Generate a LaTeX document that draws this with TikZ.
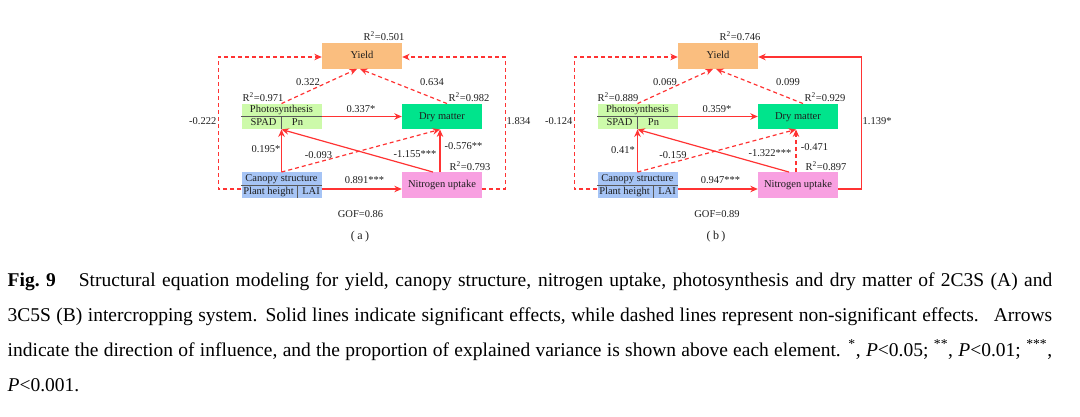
\documentclass[tikz,border=0pt]{standalone}
\usepackage{fontspec}
\setmainfont{Liberation Serif}
\usetikzlibrary{arrows.meta}
\definecolor{arr}{RGB}{255,51,51}
\definecolor{yieldc}{RGB}{250,190,127}
\definecolor{psc}{RGB}{205,250,170}
\definecolor{dmc}{RGB}{0,228,140}
\definecolor{cac}{RGB}{166,196,245}
\definecolor{nuc}{RGB}{248,160,225}
\definecolor{ink}{RGB}{30,30,30}
\begin{document}
\begin{tikzpicture}[x=1pt,y=-1pt, font=\fontsize{10.5}{12}\selectfont, text=ink,
 box/.style={minimum width=80pt, minimum height=25.5pt, inner sep=0pt, text height=7.5pt, text depth=2pt},
 txt/.style={inner sep=0.5pt, text height=7.5pt, text depth=2pt},
 link/.style={draw=arr, line width=1.2pt, -{Stealth[length=7.5pt,width=6.5pt]}},
 ns/.style={dash pattern=on 4pt off 3pt},
 div/.style={draw=black!65, line width=0.9pt},
 panlet/.style={inner sep=0.5pt, font=\fontsize{12}{14}\selectfont}]
\useasboundingbox (0,0) rectangle (1080,417);

% ---------------- panel (a) ----------------
\node[box, fill=yieldc] (ay) at (362,56) {Yield};
\node[box, fill=psc] (ap) at (281.5,116.5) {};
\draw[div] (ap.west) -- (ap.east);
\draw[div] (ap.center) -- (ap.south);
\node[txt] (apt1) at (281.5,110.25) {Photosynthesis};
\node[txt] (apt2) at (263.5,122.75) {SPAD};
\node[txt] (apt3) at (297.5,122.75) {Pn};
\node[box, fill=dmc] (ad) at (442,116.5) {Dry matter};
\node[box, fill=cac] (ac) at (281.5,185) {};
\draw[div] (ac.west) -- (ac.east);
\draw[div] ([xshift=15.5pt]ac.center) -- ([xshift=15.5pt]ac.south);
\node[txt] (act1) at (281.5,178.5) {Canopy structure};
\node[txt] (act2) at (268.5,191.5) {Plant height};
\node[txt] (act3) at (311,191.5) {LAI};
\node[box, fill=nuc] (an) at (442,185) {Nitrogen uptake};

\draw[link,ns] (ap.north) -- ([xshift=-5pt]ay.south);
\draw[link,ns] ([xshift=5pt]ad.north) -- ([xshift=-2pt]ay.south);
\draw[link] (ap.east) -- (ad.west);
\draw[link] (ac.north) -- (ap.south);
\draw[link,ns] (ac.north) -- ([xshift=-2pt]ad.south);
\draw[link] ([xshift=-9pt]an.north) -- (ap.south);
\draw[link] ([xshift=-2pt]an.north) -- ([xshift=-2pt]ad.south);
\draw[link] ([yshift=-4pt]ac.east) -- ([yshift=-4pt]an.west);
\draw[link,ns] ([yshift=-4pt]ac.west) -- ++(-23,0) |- ([yshift=-1pt]ay.west);
\draw[link,ns] ([yshift=-4pt]an.east) -- ++(23,0) |- ([yshift=-1pt]ay.east);

\node[txt, anchor=west] (ar1) at (363,38) {R\textsuperscript{2}=0.501};
\node[txt, anchor=west] (ar2) at (242,99) {R\textsuperscript{2}=0.971};
\node[txt, anchor=west] (ar3) at (448,99) {R\textsuperscript{2}=0.982};
\node[txt, anchor=west] (ar4) at (449,167.5) {R\textsuperscript{2}=0.793};
\node[txt] (al1) at (308,83) {0.322};
\node[txt] (al2) at (432,83) {0.634};
\node[txt] (al3) at (361,110) {0.337*};
\node[txt] (al4) at (266,150) {0.195*};
\node[txt] (al5) at (318.5,156) {-0.093};
\node[txt] (al6) at (415,154.3) {-1.155***};
\node[txt] (al7) at (463.5,146.7) {-0.576**};
\node[txt] (al8) at (364.5,180.7) {0.891***};
\node[txt, anchor=east] (al9) at (217,122) {-0.222};
\node[txt, anchor=west] (al10) at (506,122) {1.834};
\node[txt] (agof) at (360.5,214.3) {GOF=0.86};
\node[panlet] (alet) at (360,236.7) {(\hspace{2.5pt}a\hspace{2.5pt})};

% ---------------- panel (b) ----------------
\node[box, fill=yieldc] (by) at (718,56) {Yield};
\node[box, fill=psc] (bp) at (637.5,116.5) {};
\draw[div] (bp.west) -- (bp.east);
\draw[div] (bp.center) -- (bp.south);
\node[txt] (bpt1) at (637.5,110.25) {Photosynthesis};
\node[txt] (bpt2) at (619.5,122.75) {SPAD};
\node[txt] (bpt3) at (653.5,122.75) {Pn};
\node[box, fill=dmc] (bd) at (798,116.5) {Dry matter};
\node[box, fill=cac] (bc) at (637.5,185) {};
\draw[div] (bc.west) -- (bc.east);
\draw[div] ([xshift=15.5pt]bc.center) -- ([xshift=15.5pt]bc.south);
\node[txt] (bct1) at (637.5,178.5) {Canopy structure};
\node[txt] (bct2) at (624.5,191.5) {Plant height};
\node[txt] (bct3) at (667,191.5) {LAI};
\node[box, fill=nuc] (bn) at (798,185) {Nitrogen uptake};

\draw[link,ns] (bp.north) -- ([xshift=-5pt]by.south);
\draw[link,ns] ([xshift=5pt]bd.north) -- ([xshift=-2pt]by.south);
\draw[link] (bp.east) -- (bd.west);
\draw[link] (bc.north) -- (bp.south);
\draw[link,ns] (bc.north) -- ([xshift=-2pt]bd.south);
\draw[link] ([xshift=-9pt]bn.north) -- (bp.south);
\draw[link,ns] ([xshift=-2pt]bn.north) -- ([xshift=-2pt]bd.south);
\draw[link] ([yshift=-4pt]bc.east) -- ([yshift=-4pt]bn.west);
\draw[link,ns] ([yshift=-4pt]bc.west) -- ++(-23,0) |- ([yshift=-1pt]by.west);
\draw[link] ([yshift=-4pt]bn.east) -- ++(23,0) |- ([yshift=-1pt]by.east);

\node[txt, anchor=west] (br1) at (719,38) {R\textsuperscript{2}=0.746};
\node[txt, anchor=west] (br2) at (597,99) {R\textsuperscript{2}=0.889};
\node[txt, anchor=west] (br3) at (804,99) {R\textsuperscript{2}=0.929};
\node[txt, anchor=west] (br4) at (805,167.5) {R\textsuperscript{2}=0.897};
\node[txt] (bl1) at (665,83) {0.069};
\node[txt] (bl2) at (788,83) {0.099};
\node[txt] (bl3) at (717,110) {0.359*};
\node[txt] (bl4) at (623,151) {0.41*};
\node[txt] (bl5) at (673,156) {-0.159};
\node[txt] (bl6) at (770,154) {-1.322***};
\node[txt] (bl7) at (814.5,148) {-0.471};
\node[txt] (bl8) at (720.5,180.7) {0.947***};
\node[txt, anchor=east] (bl9) at (573,122) {-0.124};
\node[txt, anchor=west] (bl10) at (862,122) {1.139*};
\node[txt] (bgof) at (717,215) {GOF=0.89};
\node[panlet] (blet) at (716,236.7) {(\hspace{2.5pt}b\hspace{2.5pt})};

% ---------------- caption ----------------
\node[anchor=north west, inner sep=0pt, text width=1044.5pt, align=justify,
      font=\fontsize{19.5}{35}\selectfont, text=black] (cap) at (7.5,272.5)
{\hyphenpenalty=10000\mbox{\textbf{Fig. 9}}\hspace{23pt}Structural equation modeling for yield, canopy structure, nitrogen uptake, photosynthesis and dry matter of 2C3S (A) and\linebreak
3C5S (B) intercropping system. Solid lines indicate significant effects, while dashed lines represent non-significant effects.\hspace{15pt}Arrows\linebreak
indicate the direction of influence, and the proportion of explained variance is shown above each element. \textsuperscript{*}, \textit{P}<0.05; \textsuperscript{**}, \textit{P}<0.01; \textsuperscript{***},\linebreak
\textit{P}<0.001.};
\end{tikzpicture}
\end{document}
